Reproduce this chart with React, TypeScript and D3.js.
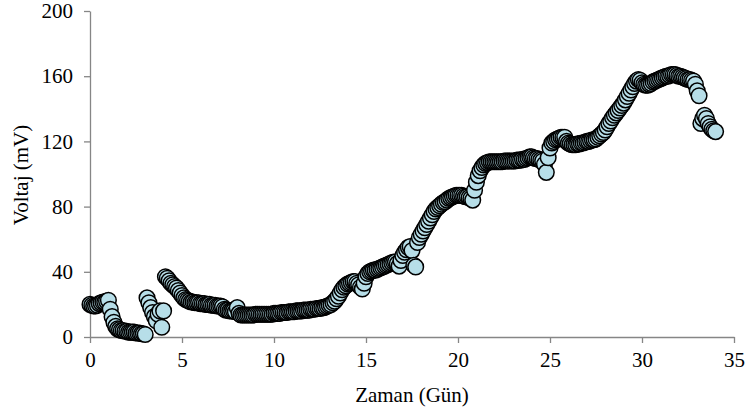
import React, { useRef, useEffect } from 'react';
import { select, scaleLinear, axisBottom, axisLeft } from 'd3';

// measurement times (days)
const days = [
  0, 0.1, 0.2, 0.3, 0.4, 0.5, 0.6, 0.7, 0.8, 0.9,
  1, 1.1, 1.2, 1.3, 1.4, 1.5, 1.6, 1.7, 1.8, 1.9,
  2, 2.1, 2.2, 2.3, 2.4, 2.5, 2.6, 2.7, 2.8, 2.9,
  3, 3.1, 3.2, 3.3, 3.4, 3.5, 3.6, 3.7, 3.8, 3.9,
  4, 4.1, 4.2, 4.3, 4.4, 4.5, 4.6, 4.7, 4.8, 4.9,
  5, 5.1, 5.2, 5.3, 5.4, 5.5, 5.6, 5.7, 5.8, 5.9,
  6, 6.1, 6.2, 6.3, 6.4, 6.5, 6.6, 6.7, 6.8, 6.9,
  7, 7.1, 7.2, 7.3, 7.4, 7.5, 7.6, 7.7, 7.8, 7.9,
  8, 8.1, 8.2, 8.3, 8.4, 8.5, 8.6, 8.7, 8.8, 8.9,
  9, 9.1, 9.2, 9.3, 9.4, 9.5, 9.6, 9.7, 9.8, 9.9,
  10, 10.1, 10.2, 10.3, 10.4, 10.5, 10.6, 10.7, 10.8, 10.9,
  11, 11.1, 11.2, 11.3, 11.4, 11.5, 11.6, 11.7, 11.8, 11.9,
  12, 12.1, 12.2, 12.3, 12.4, 12.5, 12.6, 12.7, 12.8, 12.9,
  13, 13.1, 13.2, 13.3, 13.4, 13.5, 13.6, 13.7, 13.8, 13.9,
  14, 14.1, 14.2, 14.3, 14.4, 14.5, 14.6, 14.7, 14.8, 14.9,
  15, 15.1, 15.2, 15.3, 15.4, 15.5, 15.6, 15.7, 15.8, 15.9,
  16, 16.1, 16.2, 16.3, 16.4, 16.5, 16.6, 16.7, 16.8, 16.9,
  17, 17.1, 17.2, 17.3, 17.4, 17.5, 17.6, 17.7, 17.8, 17.9,
  18, 18.1, 18.2, 18.3, 18.4, 18.5, 18.6, 18.7, 18.8, 18.9,
  19, 19.1, 19.2, 19.3, 19.4, 19.5, 19.6, 19.7, 19.8, 19.9,
  20, 20.1, 20.2, 20.3, 20.4, 20.5, 20.6, 20.7, 20.8, 20.9,
  21, 21.1, 21.2, 21.3, 21.4, 21.5, 21.6, 21.7, 21.8, 21.9,
  22, 22.1, 22.2, 22.3, 22.4, 22.5, 22.6, 22.7, 22.8, 22.9,
  23, 23.1, 23.2, 23.3, 23.4, 23.5, 23.6, 23.7, 23.8, 23.9,
  24, 24.1, 24.2, 24.3, 24.4, 24.5, 24.6, 24.7, 24.8, 24.9,
  25, 25.1, 25.2, 25.3, 25.4, 25.5, 25.6, 25.7, 25.8, 25.9,
  26, 26.1, 26.2, 26.3, 26.4, 26.5, 26.6, 26.7, 26.8, 26.9,
  27, 27.1, 27.2, 27.3, 27.4, 27.5, 27.6, 27.7, 27.8, 27.9,
  28, 28.1, 28.2, 28.3, 28.4, 28.5, 28.6, 28.7, 28.8, 28.9,
  29, 29.1, 29.2, 29.3, 29.4, 29.5, 29.6, 29.7, 29.8, 29.9,
  30, 30.1, 30.2, 30.3, 30.4, 30.5, 30.6, 30.7, 30.8, 30.9,
  31, 31.1, 31.2, 31.3, 31.4, 31.5, 31.6, 31.7, 31.8, 31.9,
  32, 32.1, 32.2, 32.3, 32.4, 32.5, 32.6, 32.7, 32.8, 32.9,
  33, 33.1, 33.2, 33.3, 33.4, 33.5, 33.6, 33.7, 33.8, 33.9,
  34
];

// voltage readings (mV)
const voltage = [
  20, 19.5, 19, 19, 19.5, 20.5, 21, 21.5, 21.5, 22,
  22.5, 17, 12.5, 9, 6.5, 5, 4.5, 4, 4, 3.5,
  3.5, 3, 3, 3, 3, 2.5, 2.5, 2.5, 2, 2,
  1.5, 24, 21, 18, 15, 12.5, 10, 14, 16, 6,
  16, 37, 36, 34.5, 33, 32, 31, 30, 28.5, 27,
  25.5, 24, 23, 22.5, 22, 21.5, 21.5, 21, 21, 21,
  20.5, 20.5, 20.5, 20, 20, 20, 19.5, 19.5, 19.5, 19,
  19, 19, 18.5, 17, 16.5, 16.5, 16, 16, 16, 15.5,
  18, 14.5, 13.5, 13.5, 13.5, 13.5, 13.5, 13.5, 13.5, 13.5,
  14, 14, 14, 14, 14, 14, 14, 14, 14, 14,
  14.5, 14.5, 14.5, 14.5, 15, 15, 15, 15, 15.5, 15.5,
  15.5, 15.5, 16, 16, 16, 16, 16.5, 16.5, 16.5, 16.5,
  17, 17, 17, 17.5, 17.5, 17.5, 18, 18, 18.5, 19,
  19.5, 20, 21, 22, 23.5, 25, 27, 29, 30.5, 31.5,
  32.5, 33, 33.5, 34, 34, 33, 32, 30.5, 29.5, 33,
  37, 39, 40, 40.5, 41, 41, 41.5, 42, 42.5, 43,
  43.5, 44, 44.5, 45, 45.5, 46, 46, 45, 43.5, 47,
  50, 52, 53.5, 55, 55.5, 53, 44, 43, 58, 61,
  63, 65, 67, 69, 71, 73, 75, 77, 78.5, 79.5,
  80.5, 81.5, 82.5, 83, 84, 85, 85.5, 86, 86.5, 87,
  87, 87, 87, 86.5, 86, 86, 85.5, 85, 84, 90,
  95, 99, 102, 104, 105.5, 106.5, 107, 107.5, 107.5, 107.5,
  107.5, 107.5, 107.5, 107.5, 107.5, 108, 108, 108, 108, 108,
  108, 108, 108.5, 108.5, 108.5, 109, 109, 109.5, 110, 110.5,
  110.5, 110, 109.5, 109.5, 109, 108.5, 108, 106, 101, 110,
  116, 119, 120, 121, 121.5, 122, 122.5, 122.5, 122.5, 120,
  119, 118.5, 118, 118, 118, 118.5, 118.5, 119, 119, 119.5,
  120, 120, 120.5, 121, 121, 121.5, 122.5, 123.5, 124.5, 125.5,
  127, 129, 131, 132.5, 134.5, 136, 137.5, 139, 140.5, 142,
  143.5, 145.5, 147.5, 149.5, 151.5, 153.5, 155.5, 157, 158, 157.5,
  156, 155, 154.5, 154.5, 155, 155.5, 156.5, 157, 157.5, 158,
  158.5, 159, 159.5, 160, 160, 160.5, 161, 161, 161, 160.5,
  160, 160, 159.5, 159, 158.5, 158, 158, 157.5, 157, 155,
  151, 148, 131, 134, 136, 134, 131, 129, 127.5, 126.5,
  126
];

const xTicks = [0, 5, 10, 15, 20, 25, 30, 35];
const yTicks = [0, 40, 80, 120, 160, 200];

const FONT = 'Liberation Serif';
const AXIS_COLOR = '#868686';

function ScatterChart() {
  const svgRef = useRef<SVGSVGElement>(null);

  useEffect(() => {
    const svg = select(svgRef.current);

    const xScale = scaleLinear().domain([0, 35]).range([90, 734]);
    const yScale = scaleLinear().domain([0, 200]).range([337, 11]);

    const xAxis = axisBottom(xScale).tickValues(xTicks).tickSize(6).tickSizeOuter(0).tickPadding(9);
    svg.select('.x-axis')
      .attr('transform', `translate(0,${yScale(0)})`)
      .call(xAxis as any);

    const yAxis = axisLeft(yScale).tickValues(yTicks).tickSize(6).tickSizeOuter(0).tickPadding(11);
    svg.select('.y-axis')
      .attr('transform', `translate(${xScale(0)},0)`)
      .call(yAxis as any);

    svg.selectAll('.x-axis, .y-axis')
      .attr('font-family', FONT)
      .attr('font-size', 21);
    svg.selectAll('.x-axis path, .x-axis line, .y-axis path, .y-axis line')
      .attr('stroke', AXIS_COLOR)
      .attr('stroke-width', 1.3);
    svg.selectAll('.x-axis text, .y-axis text')
      .attr('fill', '#000')
      .attr('font-family', FONT)
      .attr('font-size', 21);

    svg.select('.points')
      .selectAll('circle')
      .data(days.map((d, i) => ({ day: d, mv: voltage[i] })))
      .join('circle')
      .attr('cx', d => xScale(d.day))
      .attr('cy', d => yScale(d.mv))
      .attr('r', 7.8)
      .attr('fill', '#B7DEE8')
      .attr('stroke', '#000')
      .attr('stroke-width', 1.5);
  }, []);

  return (
    <svg ref={svgRef} width={745} height={414}
      style={{ position: 'absolute', left: 0, top: 0, background: '#fff' }}>
      <g className="x-axis" />
      <g className="y-axis" />
      <g className="points" />
      <text x={412} y={402} textAnchor="middle" fontFamily={FONT} fontSize={21}>Zaman (Gün)</text>
      <text transform="translate(28,175) rotate(-90)" textAnchor="middle" fontFamily={FONT} fontSize={21}>Voltaj (mV)</text>
    </svg>
  );
}

export default function App() {
  return <ScatterChart />;
}
